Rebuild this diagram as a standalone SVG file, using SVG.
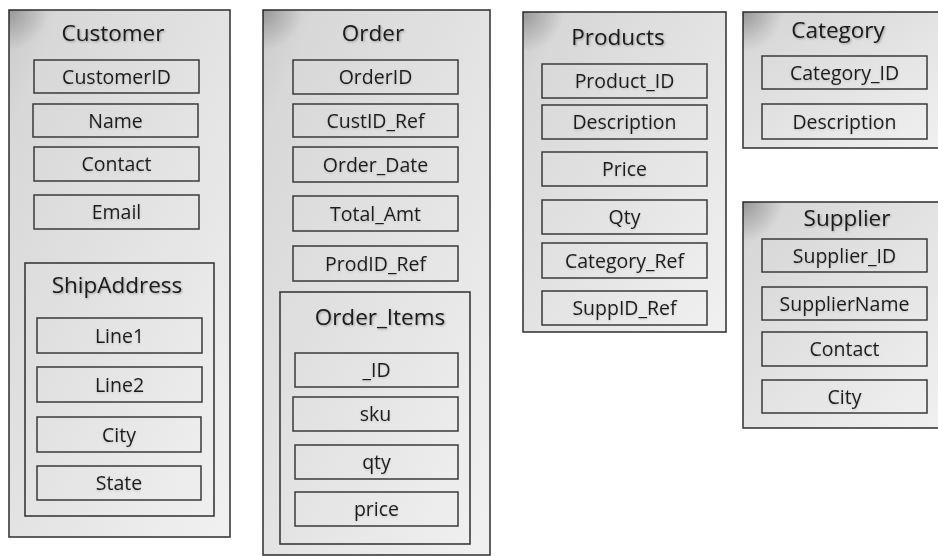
<svg xmlns="http://www.w3.org/2000/svg" width="938" height="556" viewBox="0 0 938 556">
<defs>
<linearGradient id="bg" x1="0" y1="0" x2="1" y2="1">
<stop offset="0" stop-color="#c9c9c9"/>
<stop offset="0.12" stop-color="#d8d8d8"/>
<stop offset="1" stop-color="#f1f1f1"/>
</linearGradient>
<radialGradient id="corner" cx="0" cy="0" r="1">
<stop offset="0" stop-color="#000" stop-opacity="0.25"/>
<stop offset="1" stop-color="#000" stop-opacity="0"/>
</radialGradient>
<filter id="ts" x="-10%" y="-30%" width="120%" height="160%">
<feGaussianBlur in="SourceAlpha" stdDeviation="1"/>
<feOffset dx="0.5" dy="1" result="b"/>
<feFlood flood-color="#000" flood-opacity="0.3"/>
<feComposite in2="b" operator="in"/>
<feMerge><feMergeNode/><feMergeNode in="SourceGraphic"/></feMerge>
</filter>
<filter id="fs" x="-10%" y="-30%" width="120%" height="160%">
<feGaussianBlur in="SourceAlpha" stdDeviation="0.8"/>
<feOffset dx="0.3" dy="0.6" result="b"/>
<feFlood flood-color="#000" flood-opacity="0.15"/>
<feComposite in2="b" operator="in"/>
<feMerge><feMergeNode/><feMergeNode in="SourceGraphic"/></feMerge>
</filter>
</defs>
<style>
.outer{fill:url(#bg);stroke:#3a3a3a;stroke-width:1.6}
.inner{fill:none;stroke:#3a3a3a;stroke-width:1.6}
.f{fill:none;stroke:#3a3a3a;stroke-width:1.5}
.t{font-family:"Open Sans","Liberation Sans",sans-serif;font-size:22.5px;font-weight:400;fill:#1a1a1a;text-anchor:middle;filter:url(#ts)}
.l{font-family:"Open Sans","Liberation Sans",sans-serif;font-size:19.5px;fill:#1e1e1e;text-anchor:middle;filter:url(#fs)}
</style>
<g id="connectors"/>
<g id="customer">
<rect class="outer" x="9" y="10" width="221" height="527"/>
<rect x="9" y="10" width="40" height="40" fill="url(#corner)"/>
<text class="t" x="113" y="41">Customer</text>
<rect class="f" x="34" y="60" width="165" height="33"/><text class="l" x="116.5" y="83.5">CustomerID</text>
<rect class="f" x="33" y="104" width="165" height="33"/><text class="l" x="115.5" y="127.5">Name</text>
<rect class="f" x="34" y="147" width="165" height="34"/><text class="l" x="116.5" y="171">Contact</text>
<rect class="f" x="34" y="195" width="165" height="34"/><text class="l" x="116.5" y="219">Email</text>
</g>
<g id="shipaddress">
<rect class="inner" x="25" y="263" width="189" height="253"/>
<text class="t" x="117" y="293">ShipAddress</text>
<rect class="f" x="37" y="318" width="165" height="35"/><text class="l" x="119.5" y="342.5">Line1</text>
<rect class="f" x="37" y="367" width="165" height="35"/><text class="l" x="119.5" y="391.5">Line2</text>
<rect class="f" x="37" y="417" width="164" height="35"/><text class="l" x="119" y="441.5">City</text>
<rect class="f" x="37" y="466" width="164" height="34"/><text class="l" x="119" y="490">State</text>
</g>
<g id="order">
<rect class="outer" x="263" y="10" width="227" height="545"/>
<rect x="263" y="10" width="40" height="40" fill="url(#corner)"/>
<text class="t" x="373" y="41">Order</text>
<rect class="f" x="293" y="60" width="165" height="34"/><text class="l" x="375.5" y="84">OrderID</text>
<rect class="f" x="293" y="104" width="165" height="33"/><text class="l" x="375.5" y="127.5">CustID_Ref</text>
<rect class="f" x="293" y="147" width="165" height="35"/><text class="l" x="375.5" y="171.5">Order_Date</text>
<rect class="f" x="293" y="196" width="165" height="35"/><text class="l" x="375.5" y="220.5">Total_Amt</text>
<rect class="f" x="293" y="246" width="165" height="35"/><text class="l" x="375.5" y="270.5">ProdID_Ref</text>
</g>
<g id="order_items">
<rect class="inner" x="280" y="292" width="190" height="252"/>
<text class="t" x="380" y="325">Order_Items</text>
<rect class="f" x="295" y="353" width="163" height="34"/><text class="l" x="376.5" y="377">_ID</text>
<rect class="f" x="293" y="397" width="165" height="34"/><text class="l" x="375.5" y="421">sku</text>
<rect class="f" x="295" y="445" width="163" height="34"/><text class="l" x="376.5" y="469">qty</text>
<rect class="f" x="295" y="492" width="163" height="34"/><text class="l" x="376.5" y="516">price</text>
</g>
<g id="products">
<rect class="outer" x="523" y="12" width="203" height="320"/>
<rect x="523" y="12" width="40" height="40" fill="url(#corner)"/>
<text class="t" x="618" y="45">Products</text>
<rect class="f" x="542" y="64" width="165" height="34"/><text class="l" x="624.5" y="88">Product_ID</text>
<rect class="f" x="542" y="105" width="165" height="34"/><text class="l" x="624.5" y="129">Description</text>
<rect class="f" x="542" y="152" width="165" height="34"/><text class="l" x="624.5" y="176">Price</text>
<rect class="f" x="542" y="200" width="165" height="34"/><text class="l" x="624.5" y="224">Qty</text>
<rect class="f" x="542" y="243" width="165" height="35"/><text class="l" x="624.5" y="267.5">Category_Ref</text>
<rect class="f" x="542" y="291" width="165" height="34"/><text class="l" x="624.5" y="315">SuppID_Ref</text>
</g>
<g id="category">
<rect class="outer" x="743" y="12" width="200" height="136"/>
<rect x="743" y="12" width="40" height="40" fill="url(#corner)"/>
<text class="t" x="838" y="38">Category</text>
<rect class="f" x="762" y="56" width="165" height="33"/><text class="l" x="844.5" y="79.5">Category_ID</text>
<rect class="f" x="762" y="104" width="165" height="35"/><text class="l" x="844.5" y="128.5">Description</text>
</g>
<g id="supplier">
<rect class="outer" x="743" y="202" width="200" height="226"/>
<rect x="743" y="202" width="40" height="40" fill="url(#corner)"/>
<text class="t" x="847" y="226">Supplier</text>
<rect class="f" x="762" y="239" width="165" height="33"/><text class="l" x="844.5" y="262.5">Supplier_ID</text>
<rect class="f" x="762" y="287" width="165" height="33"/><text class="l" x="844.5" y="310.5">SupplierName</text>
<rect class="f" x="762" y="332" width="165" height="34"/><text class="l" x="844.5" y="356">Contact</text>
<rect class="f" x="762" y="380" width="165" height="33"/><text class="l" x="844.5" y="403.5">City</text>
</g>
</svg>
